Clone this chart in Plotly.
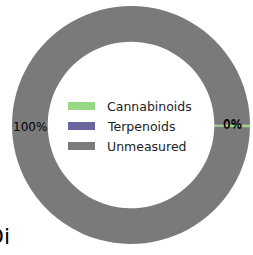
import math
import plotly.graph_objects as go

labels = ["Cannabinoids", "Terpenoids", "Unmeasured"]
values = [0.3, 0.05, 99.65]
colors = ["#98d884", "#6a679e", "#7a7a7a"]
title_text = "Di"

W, H = 253, 255
CX, CY, R_OUT, HOLE = 131, 125, 119, 0.70
dom_x = [(CX - R_OUT) / W, (CX + R_OUT) / W]
dom_y = [1 - (CY + R_OUT) / H, 1 - (CY - R_OUT) / H]

fig = go.Figure()
fig.add_trace(go.Pie(
    labels=labels, values=values, sort=False,
    direction="counterclockwise", rotation=90,
    hole=HOLE,
    marker=dict(colors=colors, line=dict(width=0)),
    textinfo="none",
    domain=dict(x=dom_x, y=dom_y),
    showlegend=False, hoverinfo="skip",
))

# percentage labels at each slice's mid-angle (start at 3 o'clock, counterclockwise)
total = sum(values)
r_mid = R_OUT * (1 + HOLE) / 2
cum = 0.0
for v in values:
    mid = 2 * math.pi * (cum + v / 2) / total
    cum += v
    px = CX + r_mid * math.cos(mid)
    py = CY - r_mid * math.sin(mid)
    fig.add_annotation(text=f"{round(100 * v / total)}%", xref="paper", yref="paper",
                       x=px / W, y=1 - (py + 1) / H, showarrow=False,
                       xanchor="center", yanchor="middle",
                       font=dict(family="DejaVu Sans", size=12, color="black"))

# legend inside the hole
x0, x1, tx = 68, 95, 107
row_y = [106, 126, 146]
for lab, col, y in zip(labels, colors, row_y):
    fig.add_shape(type="rect", xref="paper", yref="paper",
                  x0=x0 / W, x1=x1 / W, y0=1 - (y + 4) / H, y1=1 - (y - 4) / H,
                  fillcolor=col, line=dict(width=0))
    fig.add_annotation(text=lab, xref="paper", yref="paper",
                       x=(tx - 2) / W, y=1 - y / H, xanchor="left", yanchor="middle",
                       showarrow=False,
                       font=dict(family="DejaVu Sans", size=12.5, color="#222"))

fig.add_annotation(text=title_text, xref="paper", yref="paper",
                   x=12 / W, y=1 - 236 / H, xanchor="right", yanchor="middle",
                   showarrow=False, font=dict(family="DejaVu Sans", size=22, color="black"))

fig.update_layout(width=W, height=H, margin=dict(l=0, r=0, t=0, b=0),
                  paper_bgcolor="white", plot_bgcolor="white")
fig.write_html("out.html", config={"displayModeBar": False},
               post_script="document.body.style.margin='0';")
